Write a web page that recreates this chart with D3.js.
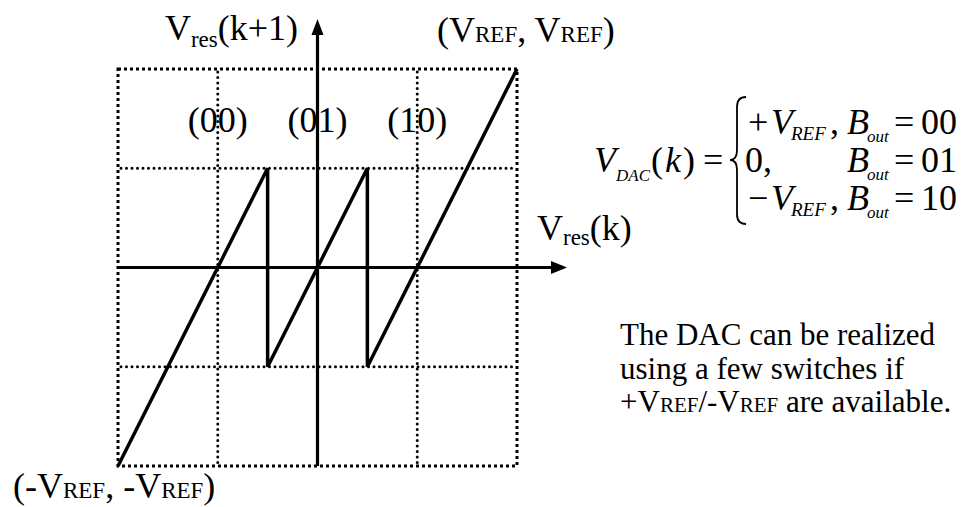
<!DOCTYPE html>
<html>
<head>
<meta charset="utf-8">
<script src="https://cdn.jsdelivr.net/npm/d3@7"></script>
<style>
  html, body { margin: 0; padding: 0; background: #fff; }
  svg { display: block; }
  text { font-family: "Liberation Serif", "Times New Roman", serif; fill: #000; }
</style>
</head>
<body>
<svg id="chart" width="963" height="507" font-family="Liberation Serif, serif"></svg>
<script>
// Residue transfer curve of a 1.5-bit pipeline stage, in units of VREF
const residueIn  = [-1, -0.25, -0.25, 0.25, 0.25, 1];
const residueOut = [-1, 0.5, -0.5, 0.5, -0.5, 1];

// Comparator thresholds / inner grid lines and the code drawn above each region
const gridLines = [-0.5, 0.5];
const codeAt = [-0.5, 0, 0.5];
const codeLabels = ["(00)", "(01)", "(10)"];

// DAC output table
const dacLevels = ["+V", "0,", "\u2212V"];
const dacHasRef = [true, false, true];
const dacCodes = ["00", "01", "10"];

const noteLines = ["The DAC can be realized", "using a few switches if"];

const svg = d3.select("#chart");

const x = d3.scaleLinear().domain([-1, 1]).range([118, 517]);
const y = d3.scaleLinear().domain([-1, 1]).range([466, 69]);

// outer dotted frame
svg.append("rect")
  .attr("x", x(-1)).attr("y", y(1))
  .attr("width", x(1) - x(-1)).attr("height", y(-1) - y(1))
  .attr("fill", "none").attr("stroke", "#000")
  .attr("stroke-width", 3).attr("stroke-dasharray", "3 3");

// inner dotted grid
const grid = svg.append("g")
  .attr("stroke", "#000").attr("stroke-width", 3)
  .attr("stroke-linecap", "round").attr("stroke-dasharray", "0 5.5");
grid.selectAll("line.v").data(gridLines).join("line")
  .attr("x1", d => x(d)).attr("x2", d => x(d))
  .attr("y1", y(1) + 3).attr("y2", y(-1) - 2);
grid.selectAll("line.h").data(gridLines).join("line")
  .attr("y1", d => y(d)).attr("y2", d => y(d))
  .attr("x1", x(-1) + 3).attr("x2", x(1) - 2);

// axes with arrowheads
const axes = svg.append("g");
axes.append("line")
  .attr("x1", x(-1)).attr("x2", x(1) + 36)
  .attr("y1", y(0)).attr("y2", y(0))
  .attr("stroke", "#000").attr("stroke-width", 3.2);
axes.append("path")
  .attr("d", `M${x(1) + 50},${y(0)} L${x(1) + 34},${y(0) - 6.5} L${x(1) + 34},${y(0) + 6.5} Z`)
  .attr("fill", "#000");
axes.append("line")
  .attr("x1", x(0)).attr("x2", x(0))
  .attr("y1", y(-1)).attr("y2", y(1) - 36)
  .attr("stroke", "#000").attr("stroke-width", 3.2);
axes.append("path")
  .attr("d", `M${x(0)},${y(1) - 50} L${x(0) - 6},${y(1) - 34} L${x(0) + 6},${y(1) - 34} Z`)
  .attr("fill", "#000");

// transfer curve
const line = d3.line().x(d => x(d[0])).y(d => y(d[1]));
svg.append("path")
  .datum(d3.zip(residueIn, residueOut))
  .attr("d", line)
  .attr("fill", "none").attr("stroke", "#000")
  .attr("stroke-width", 3.5).attr("stroke-linejoin", "miter");

// output codes
svg.selectAll("text.code").data(codeAt).join("text")
  .attr("class", "code")
  .attr("x", d => x(d)).attr("y", 132)
  .attr("text-anchor", "middle").attr("font-size", 36)
  .text((d, i) => codeLabels[i]);

// axis titles
const yTitle = svg.append("text").attr("x", 298).attr("y", 40)
  .attr("text-anchor", "end").attr("font-size", 36);
yTitle.append("tspan").text("V");
yTitle.append("tspan").attr("font-size", 23).attr("dy", 7).text("res");
yTitle.append("tspan").attr("dy", -7).text("(k+1)");

const xTitle = svg.append("text").attr("x", 537).attr("y", 240).attr("font-size", 36);
xTitle.append("tspan").text("V");
xTitle.append("tspan").attr("font-size", 23).attr("dy", 5).text("res");
xTitle.append("tspan").attr("dy", -5).text("(k)");

// corner labels
function refPair(xPos, yPos, sign) {
  const t = svg.append("text").attr("x", xPos).attr("y", yPos).attr("font-size", 36);
  t.append("tspan").text("(" + sign + "V");
  t.append("tspan").attr("font-size", 23).text("REF");
  t.append("tspan").text(", " + sign + "V");
  t.append("tspan").attr("font-size", 23).text("REF");
  t.append("tspan").text(")");
}
refPair(437, 42, "");
refPair(13, 498, "-");

// DAC equation
const eq = svg.append("g").attr("font-size", 36);
eq.append("text").attr("x", 594).attr("y", 172).attr("font-style", "italic").text("V");
eq.append("text").attr("x", 616).attr("y", 181).attr("font-style", "italic").attr("font-size", 17).text("DAC");
eq.append("text").attr("x", 651).attr("y", 172).text("(");
eq.append("text").attr("x", 665).attr("y", 172).attr("font-style", "italic").text("k");
eq.append("text").attr("x", 683).attr("y", 172).text(")");
eq.append("text").attr("x", 703).attr("y", 172).text("=");

// brace
const bx = 737, bTop = 97, bMid = 160, bBot = 224;
const brace = d3.path();
brace.moveTo(bx + 9, bTop);
brace.quadraticCurveTo(bx, bTop, bx, bTop + 10);
brace.lineTo(bx, bMid - 10);
brace.quadraticCurveTo(bx, bMid, bx - 7, bMid);
brace.quadraticCurveTo(bx, bMid, bx, bMid + 10);
brace.lineTo(bx, bBot - 10);
brace.quadraticCurveTo(bx, bBot, bx + 9, bBot);
eq.append("path").attr("d", brace.toString())
  .attr("fill", "none").attr("stroke", "#000").attr("stroke-width", 1.8);

dacLevels.forEach((lvl, i) => {
  const by = 134 + i * 38;
  if (dacHasRef[i]) {
    eq.append("text").attr("x", 748).attr("y", by).text(lvl[0]);
    eq.append("text").attr("x", 771).attr("y", by).attr("font-style", "italic").text("V");
    eq.append("text").attr("x", 791).attr("y", by + 6).attr("font-style", "italic").attr("font-size", 19).text("REF");
    eq.append("text").attr("x", 830).attr("y", by).text(",");
  } else {
    eq.append("text").attr("x", 745).attr("y", by).text(lvl);
  }
  eq.append("text").attr("x", 847).attr("y", by).attr("font-style", "italic").text("B");
  eq.append("text").attr("x", 867).attr("y", by + 8).attr("font-style", "italic").attr("font-size", 17).text("out");
  eq.append("text").attr("x", 894).attr("y", by).text("=");
  eq.append("text").attr("x", 921).attr("y", by).text(dacCodes[i]);
});

// note
const note = svg.append("g").attr("font-size", 31);
noteLines.forEach((s, i) => {
  note.append("text").attr("x", 620).attr("y", 345 + i * 34).text(s);
});
const last = note.append("text").attr("x", 620).attr("y", 412);
last.append("tspan").text("+V");
last.append("tspan").attr("font-size", 21).text("REF");
last.append("tspan").text("/-V");
last.append("tspan").attr("font-size", 21).text("REF");
last.append("tspan").text(" are available.");
</script>
</body>
</html>
